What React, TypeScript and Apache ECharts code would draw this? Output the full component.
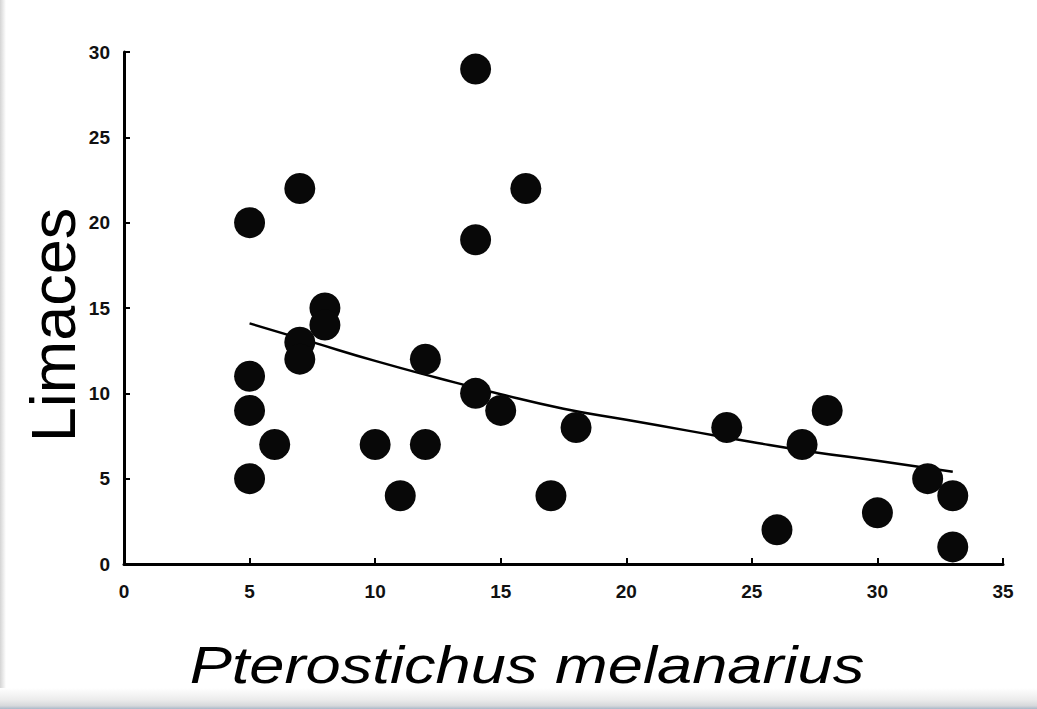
import React, { useEffect, useRef } from "react";
import * as echarts from "echarts";

const carabes: number[] = [5, 5, 5, 5, 6, 7, 7, 7, 8, 8, 10, 11, 12, 12, 14, 14, 14, 15, 16, 17, 18, 24, 26, 27, 28, 30, 32, 33, 33];
const limaces: number[] = [20, 11, 9, 5, 7, 22, 13, 12, 15, 14, 7, 4, 12, 7, 29, 19, 10, 9, 22, 4, 8, 8, 2, 7, 9, 3, 5, 4, 1];

const trendX: number[] = [5, 7.5, 10, 12.5, 15, 17.5, 20, 22.5, 25, 27.5, 30, 33];
const trendY: number[] = [14.1, 13.0, 11.9, 10.9, 9.95, 9.1, 8.45, 7.8, 7.15, 6.55, 6.05, 5.4];

const xTicks = { min: 0, max: 35, interval: 5 };
const yTicks = { min: 0, max: 30, interval: 5 };

const xTitle = "Pterostichus melanarius";
const yTitle = "Limaces";

const FONT = "Liberation Sans, Arial, sans-serif";

export default function App() {
  const ref = useRef<HTMLDivElement>(null);
  useEffect(() => {
    document.body.style.margin = "0";
    if (!ref.current) return;
    const chart = echarts.init(ref.current, undefined, { renderer: "svg" });
    const points = carabes.map((x, i) => [x, limaces[i]]);
    const trend = trendX.map((x, i) => [x, trendY[i]]);
    chart.setOption({
      animation: false,
      backgroundColor: "#ffffff",
      textStyle: { fontFamily: FONT },
      grid: { left: 124, right: 34, top: 52, bottom: 145, containLabel: false, outerBoundsMode: "none" },
      xAxis: {
        type: "value",
        min: xTicks.min,
        max: xTicks.max,
        interval: xTicks.interval,
        axisLine: { show: true, onZero: false, lineStyle: { color: "#000", width: 3 } },
        axisTick: { show: true, inside: true, length: 6, lineStyle: { color: "#000", width: 2 } },
        axisLabel: { fontSize: 19, fontWeight: "bold", color: "#111", margin: 18 },
        splitLine: { show: false },
      },
      yAxis: {
        type: "value",
        min: yTicks.min,
        max: yTicks.max,
        interval: yTicks.interval,
        axisLine: { show: true, onZero: false, lineStyle: { color: "#000", width: 3 } },
        axisTick: { show: true, inside: true, length: 6, lineStyle: { color: "#000", width: 2 } },
        axisLabel: { fontSize: 19, fontWeight: "bold", color: "#111", margin: 14 },
        splitLine: { show: false },
      },
      graphic: [
        {
          type: "rect",
          left: 0,
          top: 0,
          shape: { width: 6, height: 709 },
          style: {
            fill: new echarts.graphic.LinearGradient(0, 0, 1, 0, [
              { offset: 0, color: "#d4d4d4" },
              { offset: 1, color: "#ffffff" },
            ]),
          },
          silent: true,
        },
        {
          type: "rect",
          left: 0,
          top: 688,
          shape: { width: 1037, height: 21 },
          style: {
            fill: new echarts.graphic.LinearGradient(0, 0, 0, 1, [
              { offset: 0, color: "#ffffff" },
              { offset: 0.55, color: "#ececec" },
              { offset: 0.85, color: "#d6d8db" },
              { offset: 1, color: "#a9b8c8" },
            ]),
          },
          silent: true,
        },
        {
          type: "text",
          x: 527,
          y: 665,
          scaleX: 1.24,
          style: {
            x: 0,
            y: 0,
            text: xTitle,
            fill: "#000",
            font: `italic 51px ${FONT}`,
            textAlign: "center",
            textVerticalAlign: "middle",
          },
          silent: true,
        },
        {
          type: "text",
          x: 53,
          y: 325,
          rotation: Math.PI / 2,
          style: {
            x: 0,
            y: 0,
            text: yTitle,
            fill: "#000",
            font: `63px ${FONT}`,
            textAlign: "center",
            textVerticalAlign: "middle",
          },
          silent: true,
        },
      ],
      series: [
        {
          type: "line",
          data: trend,
          smooth: true,
          showSymbol: false,
          symbol: "none",
          lineStyle: { color: "#000", width: 2.5 },
          z: 3,
        },
        {
          type: "scatter",
          data: points,
          symbol: "circle",
          symbolSize: 31,
          itemStyle: { color: "#080808", opacity: 1 },
          z: 4,
        },
      ],
    });
    return () => chart.dispose();
  }, []);
  return <div ref={ref} style={{ width: 1037, height: 709 }} />;
}
